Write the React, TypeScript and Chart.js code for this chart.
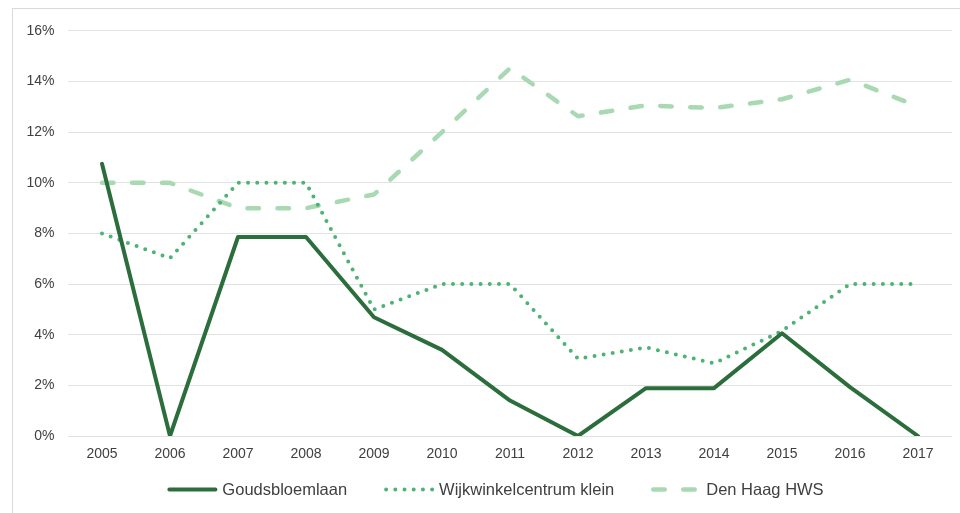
import { useEffect, useRef } from "react";
import { Chart, registerables } from "chart.js";

Chart.register(...registerables);

const years = ["2005", "2006", "2007", "2008", "2009", "2010", "2011", "2012", "2013", "2014", "2015", "2016", "2017"];
const goudsbloemlaan = [10.75, 0, 7.86, 7.86, 4.69, 3.4, 1.4, 0, 1.89, 1.89, 4.06, 1.93, 0];
const wijkwinkelcentrumKlein = [8, 7.02, 10, 10, 5.0, 6, 6, 3.05, 3.5, 2.87, 4.15, 6, 6];
const denHaagHWS = [10, 10, 9, 9, 9.54, 12.0, 14.53, 12.63, 13.06, 12.95, 13.3, 14.07, 13.02];
const seriesNames = ["Goudsbloemlaan", "Wijkwinkelcentrum klein", "Den Haag HWS"];
const yMin = 0;
const yMax = 16;
const yStep = 2;

const FONT = "'Liberation Sans', Arial, sans-serif";

const legendPlugin = {
  id: "customLegend",
  afterDraw(chart: any) {
    const ctx = chart.ctx as CanvasRenderingContext2D;
    ctx.save();
    ctx.font = `16.5px ${FONT}`;
    const sample = 50;
    const textGap = 5;
    const itemGap = 37;
    const items = chart.data.datasets.map((ds: any) => ({ ds, w: ctx.measureText(ds.label).width }));
    const total = items.reduce((s: number, it: any) => s + sample + textGap + it.w, 0) + itemGap * (items.length - 1);
    let x = 482.5 - total / 2;
    const y = 480.5;
    for (const it of items) {
      const ds = it.ds;
      ctx.save();
      ctx.strokeStyle = ds.borderColor;
      ctx.lineWidth = ds.borderWidth;
      ctx.lineCap = "round";
      ctx.setLineDash(ds.borderDash || []);
      ctx.beginPath();
      ctx.moveTo(x + 2, y);
      ctx.lineTo(x + sample - 2, y);
      ctx.stroke();
      ctx.restore();
      ctx.fillStyle = "#404040";
      ctx.textBaseline = "middle";
      ctx.textAlign = "left";
      ctx.fillText(ds.label, x + sample + textGap, y + 1);
      x += sample + textGap + it.w + itemGap;
    }
    ctx.restore();
  },
};

export default function App() {
  const ref = useRef<HTMLCanvasElement | null>(null);

  useEffect(() => {
    if (!ref.current) return;
    const chart = new Chart(ref.current, {
      type: "line",
      data: {
        labels: years,
        datasets: [
          {
            label: seriesNames[0],
            data: goudsbloemlaan,
            borderColor: "#2b6e3c",
            backgroundColor: "#2b6e3c",
            borderWidth: 4,
            borderCapStyle: "round",
            borderJoinStyle: "round",
            pointRadius: 0,
            tension: 0,
            order: 1,
          },
          {
            label: seriesNames[1],
            data: wijkwinkelcentrumKlein,
            borderColor: "#4cb374",
            backgroundColor: "#4cb374",
            borderWidth: 4,
            borderDash: [0, 9.2],
            borderCapStyle: "round",
            borderJoinStyle: "round",
            pointRadius: 0,
            tension: 0,
            order: 2,
          },
          {
            label: seriesNames[2],
            data: denHaagHWS,
            borderColor: "#a8d9b3",
            backgroundColor: "#a8d9b3",
            borderWidth: 4.5,
            borderDash: [11.5, 18.5],
            borderCapStyle: "round",
            borderJoinStyle: "round",
            pointRadius: 0,
            tension: 0,
            order: 3,
          },
        ],
      },
      options: {
        responsive: false,
        animation: false,
        devicePixelRatio: 1,
        layout: { padding: { top: 20.3, right: 8, bottom: 50, left: 0 } },
        plugins: {
          legend: { display: false },
          tooltip: { enabled: false },
          title: { display: false },
        },
        scales: {
          x: {
            offset: true,
            grid: { display: false, drawTicks: false },
            border: { display: false },
            ticks: {
              color: "#404040",
              font: { family: FONT, size: 14 },
              padding: 10,
              maxRotation: 0,
              autoSkip: false,
            },
            afterFit: (scale: any) => {
              scale.height = 27;
            },
          },
          y: {
            min: yMin,
            max: yMax,
            grid: { color: "#e2e2e2", lineWidth: 1, drawTicks: false },
            border: { display: false },
            ticks: {
              stepSize: yStep,
              color: "#404040",
              font: { family: FONT, size: 14 },
              padding: 13.5,
              callback: (v: any) => `${v}%`,
            },
            afterFit: (scale: any) => {
              scale.width = 55;
            },
          },
        },
      },
      plugins: [legendPlugin],
    });
    return () => chart.destroy();
  }, []);

  return (
    <div
      style={{
        position: "fixed",
        left: 12,
        top: 8,
        width: 948,
        height: 505,
        borderTop: "1px solid #d9d9d9",
        borderLeft: "1px solid #d9d9d9",
        boxSizing: "border-box",
        background: "#fff",
      }}
    >
      <canvas ref={ref} width={947} height={504} style={{ display: "block", width: 947, height: 504 }} />
    </div>
  );
}
